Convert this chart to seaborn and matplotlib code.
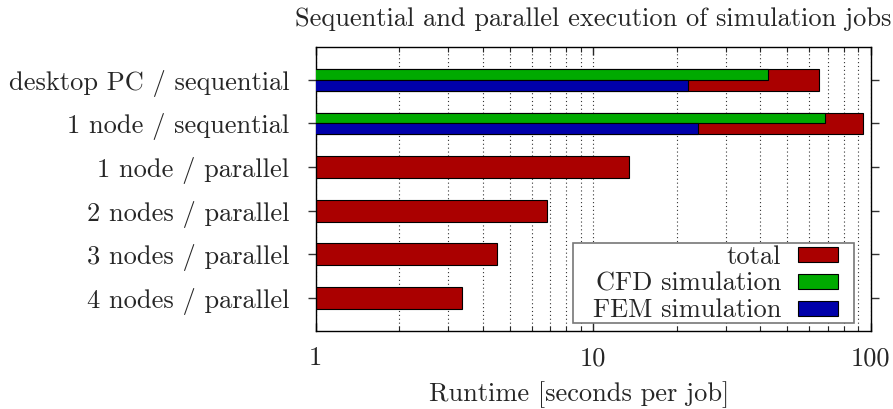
import matplotlib
matplotlib.use("Agg")
import matplotlib.pyplot as plt
from matplotlib.patches import Patch, Rectangle
from matplotlib.ticker import LogLocator, NullFormatter
import seaborn as sns
import pandas as pd

# ---- data ----
categories = ["desktop PC / sequential", "1 node / sequential", "1 node / parallel",
              "2 nodes / parallel", "3 nodes / parallel", "4 nodes / parallel"]
total_runtime = [64.9, 93.6, 13.46, 6.80, 4.50, 3.36]
seq_categories = ["desktop PC / sequential", "1 node / sequential"]
cfd_runtime = [42.8, 68.6]
fem_runtime = [22.0, 23.9]
x_ticks = [1, 10, 100]
x_tick_labels = ["1", "10", "100"]

title = "Sequential and parallel execution of simulation jobs"
xlabel = "Runtime [seconds per job]"
legend_labels = ["total", "CFD simulation", "FEM simulation"]

RED, GREEN, BLUE = "#aa0000", "#00aa00", "#0000aa"

sns.set_theme(style="ticks")
plt.rcParams["font.family"] = ["cmr10", "DejaVu Serif"]
plt.rcParams["mathtext.fontset"] = "cm"
plt.rcParams["axes.formatter.use_mathtext"] = True
FS = 19

fig = plt.figure(figsize=(8.93, 4.09), dpi=100)
ax = fig.add_axes([315.7 / 893, 78 / 409, 555 / 893, 284.3 / 409])

df_total = pd.DataFrame({"category": categories, "runtime": total_runtime})
sns.barplot(data=df_total, x="runtime", y="category", order=categories,
            orient="h", width=0.5, color=RED, saturation=1,
            edgecolor="black", linewidth=0.8, ax=ax, zorder=2)

df_parts = pd.DataFrame({
    "category": seq_categories + seq_categories,
    "runtime": cfd_runtime + fem_runtime,
    "part": [legend_labels[1]] * len(seq_categories) + [legend_labels[2]] * len(seq_categories),
})
sns.barplot(data=df_parts, x="runtime", y="category", order=categories,
            hue="part", hue_order=legend_labels[1:], palette=[GREEN, BLUE],
            orient="h", width=0.5, dodge=True, saturation=1, legend=False,
            edgecolor="black", linewidth=0.8, ax=ax, zorder=3)

ax.set_xscale("log")
ax.set_xlim(1, 100)
ax.set_ylim(len(categories) - 1 + 0.76, -0.76)
ax.set_xticks(x_ticks, labels=x_tick_labels)
ax.xaxis.set_minor_locator(LogLocator(base=10, subs=range(2, 10)))
ax.xaxis.set_minor_formatter(NullFormatter())

ax.set_axisbelow(True)
ax.grid(False)
ax.xaxis.grid(True, which="both", color="#333333", linestyle=(0, (1, 2.5)), linewidth=0.8)

for s in ax.spines.values():
    s.set_visible(True)
    s.set_color("black")
    s.set_linewidth(1.0)

ax.tick_params(axis="y", which="both", left=True, right=True, direction="out",
               length=6, width=1.0, pad=13, labelsize=FS, color="#333333")
ax.tick_params(axis="x", which="major", top=True, bottom=True, direction="in",
               length=6, width=1.0, pad=11, labelsize=FS)
ax.tick_params(axis="x", which="minor", top=True, bottom=True, direction="in",
               length=3.5, width=0.8)

ax.set_ylabel("")
ax.set_xlabel(xlabel, fontsize=FS)
ax.xaxis.set_label_coords(0.4744, -0.176)
ax.xaxis.label.set_verticalalignment("top")
ax.set_title(title, fontsize=FS, pad=15)

# legend frame
frame = Rectangle((0.4642, 0.0292), 0.9699 - 0.4642, 0.3106 - 0.0292,
                  transform=ax.transAxes, facecolor="white", edgecolor="#777777",
                  linewidth=1.2, zorder=4)
ax.add_patch(frame)
handles = [Patch(facecolor=c, edgecolor="black", linewidth=0.8) for c in (RED, GREEN, BLUE)]
leg = ax.legend(handles, legend_labels, loc="lower right",
                bbox_to_anchor=(0.9416, 0.030), borderaxespad=0, borderpad=0,
                frameon=False, markerfirst=False, fontsize=FS,
                handlelength=1.52, handleheight=0.51, handletextpad=0.65,
                labelspacing=0.11)
leg.set_zorder(5)

fig.savefig("out.png", dpi=100)
